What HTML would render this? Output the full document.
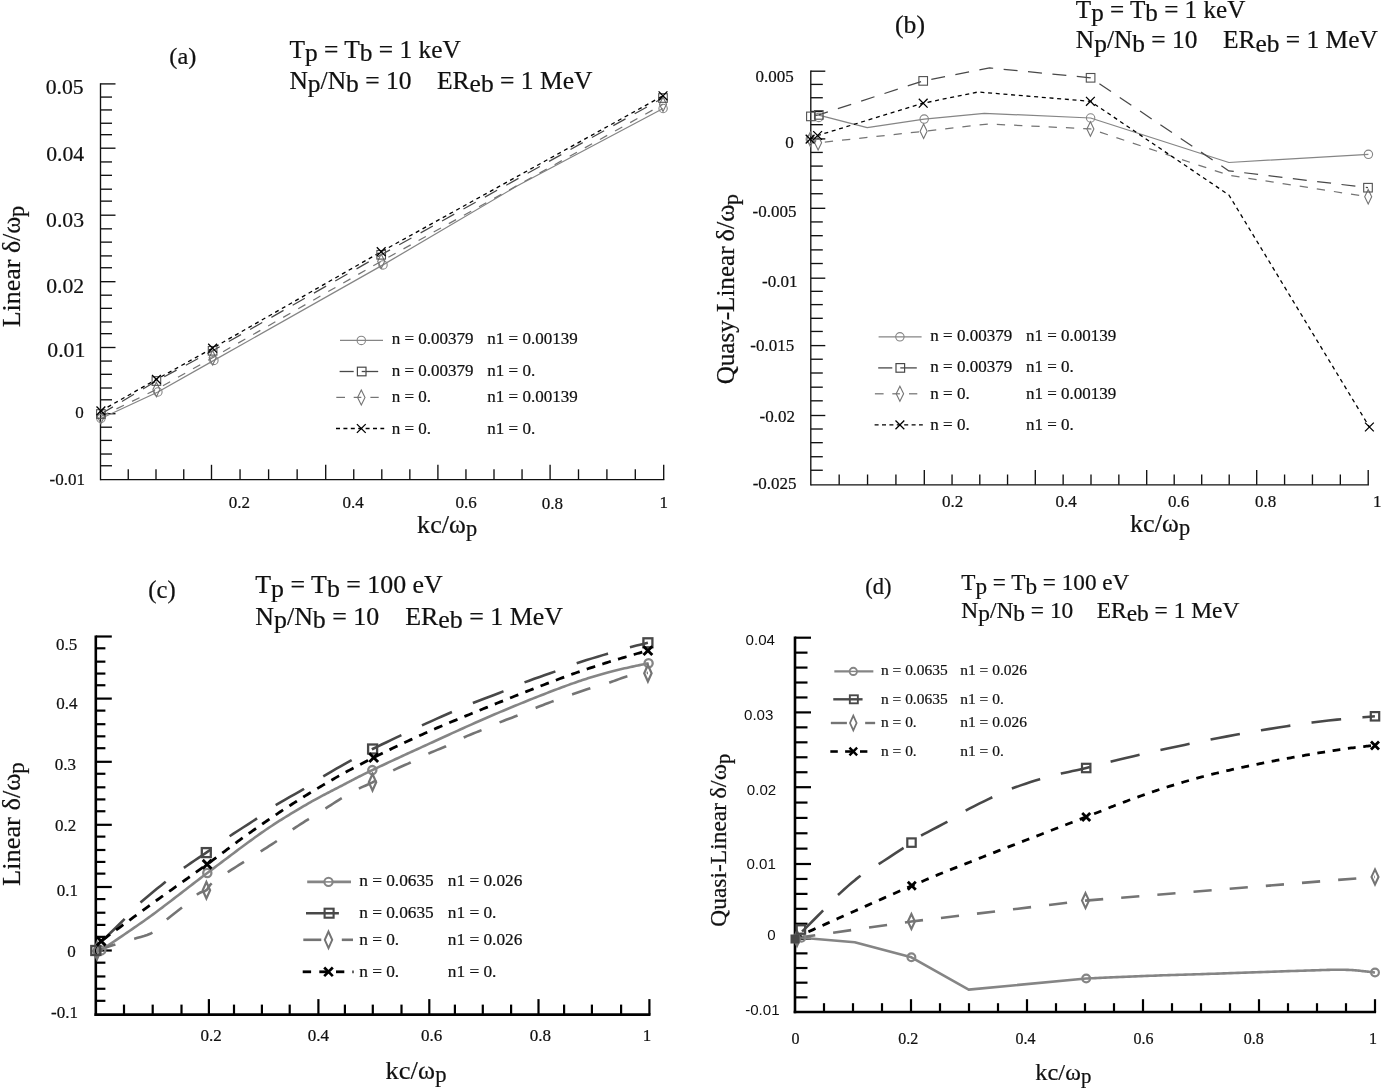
<!DOCTYPE html>
<html><head><meta charset="utf-8"><title>Figure</title>
<style>html,body{margin:0;padding:0;background:#fff;}svg{display:block;will-change:transform;}text{white-space:pre;stroke:#111;stroke-width:0.22px;}</style>
</head><body>
<svg width="1381" height="1088" viewBox="0 0 1381 1088">
<rect x="0" y="0" width="1381" height="1088" fill="#ffffff"/>
<line x1="100.5" y1="83.23" x2="100.5" y2="480.28" stroke="#111111" stroke-width="1.35" />
<line x1="100.5" y1="479.6" x2="664.38" y2="479.6" stroke="#111111" stroke-width="1.35" />
<line x1="100.5" y1="83.9" x2="115.5" y2="83.9" stroke="#111111" stroke-width="1.35" />
<line x1="100.5" y1="97.08" x2="112" y2="97.08" stroke="#111111" stroke-width="1.35" />
<line x1="100.5" y1="109.94" x2="112" y2="109.94" stroke="#111111" stroke-width="1.35" />
<line x1="100.5" y1="123.25" x2="112" y2="123.25" stroke="#111111" stroke-width="1.35" />
<line x1="100.5" y1="134.7" x2="112" y2="134.7" stroke="#111111" stroke-width="1.35" />
<line x1="100.5" y1="148.2" x2="115.5" y2="148.2" stroke="#111111" stroke-width="1.35" />
<line x1="100.5" y1="161.94" x2="112" y2="161.94" stroke="#111111" stroke-width="1.35" />
<line x1="100.5" y1="175.33" x2="112" y2="175.33" stroke="#111111" stroke-width="1.35" />
<line x1="100.5" y1="189.2" x2="112" y2="189.2" stroke="#111111" stroke-width="1.35" />
<line x1="100.5" y1="201.13" x2="112" y2="201.13" stroke="#111111" stroke-width="1.35" />
<line x1="100.5" y1="215.2" x2="115.5" y2="215.2" stroke="#111111" stroke-width="1.35" />
<line x1="100.5" y1="228.83" x2="112" y2="228.83" stroke="#111111" stroke-width="1.35" />
<line x1="100.5" y1="242.13" x2="112" y2="242.13" stroke="#111111" stroke-width="1.35" />
<line x1="100.5" y1="255.9" x2="112" y2="255.9" stroke="#111111" stroke-width="1.35" />
<line x1="100.5" y1="267.74" x2="112" y2="267.74" stroke="#111111" stroke-width="1.35" />
<line x1="100.5" y1="281.7" x2="115.5" y2="281.7" stroke="#111111" stroke-width="1.35" />
<line x1="100.5" y1="295.19" x2="112" y2="295.19" stroke="#111111" stroke-width="1.35" />
<line x1="100.5" y1="308.35" x2="112" y2="308.35" stroke="#111111" stroke-width="1.35" />
<line x1="100.5" y1="321.97" x2="112" y2="321.97" stroke="#111111" stroke-width="1.35" />
<line x1="100.5" y1="333.68" x2="112" y2="333.68" stroke="#111111" stroke-width="1.35" />
<line x1="100.5" y1="347.5" x2="115.5" y2="347.5" stroke="#111111" stroke-width="1.35" />
<line x1="100.5" y1="361.07" x2="112" y2="361.07" stroke="#111111" stroke-width="1.35" />
<line x1="100.5" y1="374.31" x2="112" y2="374.31" stroke="#111111" stroke-width="1.35" />
<line x1="100.5" y1="388.01" x2="112" y2="388.01" stroke="#111111" stroke-width="1.35" />
<line x1="100.5" y1="399.8" x2="112" y2="399.8" stroke="#111111" stroke-width="1.35" />
<line x1="100.5" y1="413.7" x2="115.5" y2="413.7" stroke="#111111" stroke-width="1.35" />
<line x1="100.5" y1="427.21" x2="112" y2="427.21" stroke="#111111" stroke-width="1.35" />
<line x1="100.5" y1="440.39" x2="112" y2="440.39" stroke="#111111" stroke-width="1.35" />
<line x1="100.5" y1="454.03" x2="112" y2="454.03" stroke="#111111" stroke-width="1.35" />
<line x1="100.5" y1="465.76" x2="112" y2="465.76" stroke="#111111" stroke-width="1.35" />
<line x1="128.25" y1="479.6" x2="128.25" y2="469.3" stroke="#111111" stroke-width="1.35" />
<line x1="156" y1="479.6" x2="156" y2="469.3" stroke="#111111" stroke-width="1.35" />
<line x1="183.75" y1="479.6" x2="183.75" y2="469.3" stroke="#111111" stroke-width="1.35" />
<line x1="211.5" y1="479.6" x2="211.5" y2="464.8" stroke="#111111" stroke-width="1.35" />
<line x1="240.05" y1="479.6" x2="240.05" y2="469.3" stroke="#111111" stroke-width="1.35" />
<line x1="268.6" y1="479.6" x2="268.6" y2="469.3" stroke="#111111" stroke-width="1.35" />
<line x1="297.15" y1="479.6" x2="297.15" y2="469.3" stroke="#111111" stroke-width="1.35" />
<line x1="325.7" y1="479.6" x2="325.7" y2="464.8" stroke="#111111" stroke-width="1.35" />
<line x1="353.75" y1="479.6" x2="353.75" y2="469.3" stroke="#111111" stroke-width="1.35" />
<line x1="381.8" y1="479.6" x2="381.8" y2="469.3" stroke="#111111" stroke-width="1.35" />
<line x1="409.85" y1="479.6" x2="409.85" y2="469.3" stroke="#111111" stroke-width="1.35" />
<line x1="437.9" y1="479.6" x2="437.9" y2="464.8" stroke="#111111" stroke-width="1.35" />
<line x1="465.95" y1="479.6" x2="465.95" y2="469.3" stroke="#111111" stroke-width="1.35" />
<line x1="494" y1="479.6" x2="494" y2="469.3" stroke="#111111" stroke-width="1.35" />
<line x1="522.05" y1="479.6" x2="522.05" y2="469.3" stroke="#111111" stroke-width="1.35" />
<line x1="550.1" y1="479.6" x2="550.1" y2="464.8" stroke="#111111" stroke-width="1.35" />
<line x1="578.5" y1="479.6" x2="578.5" y2="469.3" stroke="#111111" stroke-width="1.35" />
<line x1="606.9" y1="479.6" x2="606.9" y2="469.3" stroke="#111111" stroke-width="1.35" />
<line x1="635.3" y1="479.6" x2="635.3" y2="469.3" stroke="#111111" stroke-width="1.35" />
<line x1="663.7" y1="479.6" x2="663.7" y2="464.8" stroke="#111111" stroke-width="1.35" />
<text x="83.6" y="93.9" font-family='"Liberation Serif", serif' font-size="21.7" text-anchor="end" fill="#111" >0.05</text>
<text x="84.1" y="161.3" font-family='"Liberation Serif", serif' font-size="21.7" text-anchor="end" fill="#111" >0.04</text>
<text x="84" y="227.2" font-family='"Liberation Serif", serif' font-size="21.7" text-anchor="end" fill="#111" >0.03</text>
<text x="84.2" y="292.6" font-family='"Liberation Serif", serif' font-size="21.7" text-anchor="end" fill="#111" >0.02</text>
<text x="85.3" y="357.4" font-family='"Liberation Serif", serif' font-size="21.7" text-anchor="end" fill="#111" >0.01</text>
<text x="83.8" y="418.3" font-family='"Liberation Serif", serif' font-size="17" text-anchor="end" fill="#111" >0</text>
<text x="84.9" y="485.4" font-family='"Liberation Serif", serif' font-size="17" text-anchor="end" fill="#111" >-0.01</text>
<text x="239.4" y="508.3" font-family='"Liberation Serif", serif' font-size="17" text-anchor="middle" fill="#111" >0.2</text>
<text x="353" y="508.3" font-family='"Liberation Serif", serif' font-size="17" text-anchor="middle" fill="#111" >0.4</text>
<text x="466" y="508.3" font-family='"Liberation Serif", serif' font-size="17" text-anchor="middle" fill="#111" >0.6</text>
<text x="552.4" y="509.4" font-family='"Liberation Serif", serif' font-size="17" text-anchor="middle" fill="#111" >0.8</text>
<text x="663.7" y="508.3" font-family='"Liberation Serif", serif' font-size="17" text-anchor="middle" fill="#111" >1</text>
<text x="417.1" y="532.9" font-family='"Liberation Serif", serif' font-size="25.37" text-anchor="start" fill="#111" textLength="31.88" lengthAdjust="spacingAndGlyphs" >kc/</text>
<text x="449.1" y="532.9" font-family='"Liberation Serif", serif' font-size="25.37" text-anchor="start" fill="#111" textLength="16.78" lengthAdjust="spacingAndGlyphs" >ω</text>
<text x="466.06" y="536.3" font-family='"Liberation Serif", serif' font-size="22.33" text-anchor="start" fill="#111" >p</text>
<g transform="translate(19.5 327.2) rotate(-90)" font-family='"Liberation Serif", serif' fill="#111">
<text x="0" y="0" font-size="25.6" textLength="67.6" lengthAdjust="spacingAndGlyphs">Linear</text>
<text x="74.1" y="0" font-size="25.6" textLength="36.5" lengthAdjust="spacingAndGlyphs">δ/ω</text>
<text x="110.1" y="4" font-size="22.4">p</text>
</g>
<text x="169.3" y="64.2" font-family='"Liberation Serif", serif' font-size="24" text-anchor="start" fill="#111" textLength="27" lengthAdjust="spacingAndGlyphs" >(a)</text>
<text x="289.4" y="57.8" font-family='"Liberation Serif", serif' font-size="25.5" text-anchor="start" fill="#111" textLength="171.6" lengthAdjust="spacingAndGlyphs" xml:space="preserve">T<tspan dy="3.4">p</tspan><tspan dy="-3.4"> = T</tspan><tspan dy="3.4">b</tspan><tspan dy="-3.4"> = 1 keV</tspan></text>
<text x="289.4" y="88.7" font-family='"Liberation Serif", serif' font-size="25.5" text-anchor="start" fill="#111" textLength="303" lengthAdjust="spacingAndGlyphs" xml:space="preserve">N<tspan dy="3.4">p</tspan><tspan dy="-3.4">/N</tspan><tspan dy="3.4">b</tspan><tspan dy="-3.4"> = 10    ER</tspan><tspan dy="3.4">eb</tspan><tspan dy="-3.4"> = 1 MeV</tspan></text>
<path d="M100.9 418.5 L157.9 392 L213.9 360.4 L383 264.9 L517 186 L663.1 108.5" fill="none" stroke="#858585" stroke-width="1.25" stroke-linejoin="round" />
<path d="M100.9 416.5 L156.4 389.5 L212.6 357.7 L381.2 261.3 L663 104.3" fill="none" stroke="#747474" stroke-width="1.25" stroke-dasharray="8.3 9" stroke-linejoin="round" />
<path d="M100.9 414 L156.4 381 L212.6 350.8 L381.2 254.8 L663 98" fill="none" stroke="#484848" stroke-width="1.25" stroke-dasharray="14 10.5" stroke-linejoin="round" />
<path d="M100.9 410.9 L156.4 379.4 L212.6 348.2 L381.2 251.7 L663 95.8" fill="none" stroke="#000000" stroke-width="1.3" stroke-dasharray="4 3.7" stroke-linejoin="round" />
<circle cx="100.9" cy="418.5" r="4.2" fill="none" stroke="#858585" stroke-width="1.1"/>
<circle cx="157.9" cy="392" r="4.2" fill="none" stroke="#858585" stroke-width="1.1"/>
<circle cx="213.9" cy="360.4" r="4.2" fill="none" stroke="#858585" stroke-width="1.1"/>
<circle cx="383" cy="264.9" r="4.2" fill="none" stroke="#858585" stroke-width="1.1"/>
<circle cx="663.1" cy="108.5" r="4.2" fill="none" stroke="#858585" stroke-width="1.1"/>
<path d="M100.9 409.25 L104.4 416.5 L100.9 423.75 L97.4 416.5 Z" fill="none" stroke="#747474" stroke-width="1.1" stroke-linejoin="miter"/>
<path d="M156.4 382.25 L159.9 389.5 L156.4 396.75 L152.9 389.5 Z" fill="none" stroke="#747474" stroke-width="1.1" stroke-linejoin="miter"/>
<path d="M212.6 350.45 L216.1 357.7 L212.6 364.95 L209.1 357.7 Z" fill="none" stroke="#747474" stroke-width="1.1" stroke-linejoin="miter"/>
<path d="M381.2 254.05 L384.7 261.3 L381.2 268.55 L377.7 261.3 Z" fill="none" stroke="#747474" stroke-width="1.1" stroke-linejoin="miter"/>
<path d="M663 97.05 L666.5 104.3 L663 111.55 L659.5 104.3 Z" fill="none" stroke="#747474" stroke-width="1.1" stroke-linejoin="miter"/>
<rect x="96.6" y="409.7" width="8.6" height="8.6" fill="none" stroke="#505050" stroke-width="1.1"/>
<rect x="152.1" y="376.7" width="8.6" height="8.6" fill="none" stroke="#505050" stroke-width="1.1"/>
<rect x="208.3" y="346.5" width="8.6" height="8.6" fill="none" stroke="#505050" stroke-width="1.1"/>
<rect x="376.9" y="250.5" width="8.6" height="8.6" fill="none" stroke="#505050" stroke-width="1.1"/>
<rect x="658.7" y="93.7" width="8.6" height="8.6" fill="none" stroke="#505050" stroke-width="1.1"/>
<path d="M96.5 406.5 L105.3 415.3 M96.5 415.3 L105.3 406.5" fill="none" stroke="#000000" stroke-width="1.3"/>
<path d="M152 375 L160.8 383.8 M152 383.8 L160.8 375" fill="none" stroke="#000000" stroke-width="1.3"/>
<path d="M208.2 343.8 L217 352.6 M208.2 352.6 L217 343.8" fill="none" stroke="#000000" stroke-width="1.3"/>
<path d="M376.8 247.3 L385.6 256.1 M376.8 256.1 L385.6 247.3" fill="none" stroke="#000000" stroke-width="1.3"/>
<path d="M658.6 91.4 L667.4 100.2 M658.6 100.2 L667.4 91.4" fill="none" stroke="#000000" stroke-width="1.3"/>
<line x1="340" y1="340.4" x2="383" y2="340.4" stroke="#858585" stroke-width="1.25" />
<circle cx="361.3" cy="340.4" r="4.2" fill="none" stroke="#858585" stroke-width="1.1"/>
<line x1="339.6" y1="371.5" x2="353.7" y2="371.5" stroke="#484848" stroke-width="1.3" />
<line x1="365.5" y1="371.5" x2="378.2" y2="371.5" stroke="#484848" stroke-width="1.3" />
<line x1="361.7" y1="371.5" x2="365.5" y2="371.5" stroke="#484848" stroke-width="1.3" />
<rect x="357.4" y="367.2" width="8.6" height="8.6" fill="none" stroke="#484848" stroke-width="1.2"/>
<line x1="336.3" y1="397.4" x2="345" y2="397.4" stroke="#747474" stroke-width="1.25" />
<line x1="353.7" y1="397.4" x2="361.3" y2="397.4" stroke="#747474" stroke-width="1.25" />
<line x1="370.4" y1="397.4" x2="378.7" y2="397.4" stroke="#747474" stroke-width="1.25" />
<path d="M361.3 389.9 L365 397.4 L361.3 404.9 L357.6 397.4 Z" fill="none" stroke="#747474" stroke-width="1.1" stroke-linejoin="miter"/>
<line x1="336" y1="428.5" x2="384.2" y2="428.5" stroke="#000000" stroke-width="1.3" stroke-dasharray="4 3.4"/>
<path d="M356.9 424.1 L365.7 432.9 M356.9 432.9 L365.7 424.1" fill="none" stroke="#000000" stroke-width="1.3"/>
<text x="391.7" y="344.3" font-family='"Liberation Serif", serif' font-size="17" text-anchor="start" fill="#111" >n = 0.00379</text>
<text x="487.3" y="344.3" font-family='"Liberation Serif", serif' font-size="17" text-anchor="start" fill="#111" >n1 = 0.00139</text>
<text x="391.7" y="375.6" font-family='"Liberation Serif", serif' font-size="17" text-anchor="start" fill="#111" >n = 0.00379</text>
<text x="487.3" y="375.6" font-family='"Liberation Serif", serif' font-size="17" text-anchor="start" fill="#111" >n1 = 0.</text>
<text x="391.7" y="402.4" font-family='"Liberation Serif", serif' font-size="17" text-anchor="start" fill="#111" >n = 0.</text>
<text x="487.3" y="402.4" font-family='"Liberation Serif", serif' font-size="17" text-anchor="start" fill="#111" >n1 = 0.00139</text>
<text x="391.7" y="433.5" font-family='"Liberation Serif", serif' font-size="17" text-anchor="start" fill="#111" >n = 0.</text>
<text x="487.3" y="433.5" font-family='"Liberation Serif", serif' font-size="17" text-anchor="start" fill="#111" >n1 = 0.</text>
<line x1="810.8" y1="70.53" x2="810.8" y2="485.48" stroke="#111111" stroke-width="1.35" />
<line x1="810.8" y1="484.8" x2="1368.97" y2="484.8" stroke="#111111" stroke-width="1.35" />
<line x1="810.8" y1="71.2" x2="825.3" y2="71.2" stroke="#111111" stroke-width="1.35" />
<line x1="810.8" y1="84.4" x2="822.8" y2="84.4" stroke="#111111" stroke-width="1.35" />
<line x1="810.8" y1="97.74" x2="822.8" y2="97.74" stroke="#111111" stroke-width="1.35" />
<line x1="810.8" y1="111.48" x2="822.8" y2="111.48" stroke="#111111" stroke-width="1.35" />
<line x1="810.8" y1="124.68" x2="822.8" y2="124.68" stroke="#111111" stroke-width="1.35" />
<line x1="810.8" y1="138.9" x2="825.3" y2="138.9" stroke="#111111" stroke-width="1.35" />
<line x1="810.8" y1="152.43" x2="822.8" y2="152.43" stroke="#111111" stroke-width="1.35" />
<line x1="810.8" y1="166.1" x2="822.8" y2="166.1" stroke="#111111" stroke-width="1.35" />
<line x1="810.8" y1="180.19" x2="822.8" y2="180.19" stroke="#111111" stroke-width="1.35" />
<line x1="810.8" y1="193.73" x2="822.8" y2="193.73" stroke="#111111" stroke-width="1.35" />
<line x1="810.8" y1="208.3" x2="825.3" y2="208.3" stroke="#111111" stroke-width="1.35" />
<line x1="810.8" y1="221.93" x2="822.8" y2="221.93" stroke="#111111" stroke-width="1.35" />
<line x1="810.8" y1="235.7" x2="822.8" y2="235.7" stroke="#111111" stroke-width="1.35" />
<line x1="810.8" y1="249.89" x2="822.8" y2="249.89" stroke="#111111" stroke-width="1.35" />
<line x1="810.8" y1="263.52" x2="822.8" y2="263.52" stroke="#111111" stroke-width="1.35" />
<line x1="810.8" y1="278.2" x2="825.3" y2="278.2" stroke="#111111" stroke-width="1.35" />
<line x1="810.8" y1="291.34" x2="822.8" y2="291.34" stroke="#111111" stroke-width="1.35" />
<line x1="810.8" y1="304.62" x2="822.8" y2="304.62" stroke="#111111" stroke-width="1.35" />
<line x1="810.8" y1="318.3" x2="822.8" y2="318.3" stroke="#111111" stroke-width="1.35" />
<line x1="810.8" y1="331.45" x2="822.8" y2="331.45" stroke="#111111" stroke-width="1.35" />
<line x1="810.8" y1="345.6" x2="825.3" y2="345.6" stroke="#111111" stroke-width="1.35" />
<line x1="810.8" y1="359.23" x2="822.8" y2="359.23" stroke="#111111" stroke-width="1.35" />
<line x1="810.8" y1="373" x2="822.8" y2="373" stroke="#111111" stroke-width="1.35" />
<line x1="810.8" y1="387.19" x2="822.8" y2="387.19" stroke="#111111" stroke-width="1.35" />
<line x1="810.8" y1="400.82" x2="822.8" y2="400.82" stroke="#111111" stroke-width="1.35" />
<line x1="810.8" y1="415.5" x2="825.3" y2="415.5" stroke="#111111" stroke-width="1.35" />
<line x1="810.8" y1="429.01" x2="822.8" y2="429.01" stroke="#111111" stroke-width="1.35" />
<line x1="810.8" y1="442.67" x2="822.8" y2="442.67" stroke="#111111" stroke-width="1.35" />
<line x1="810.8" y1="456.73" x2="822.8" y2="456.73" stroke="#111111" stroke-width="1.35" />
<line x1="810.8" y1="470.25" x2="822.8" y2="470.25" stroke="#111111" stroke-width="1.35" />
<line x1="839.17" y1="484.8" x2="839.17" y2="474.5" stroke="#111111" stroke-width="1.35" />
<line x1="867.55" y1="484.8" x2="867.55" y2="474.5" stroke="#111111" stroke-width="1.35" />
<line x1="895.92" y1="484.8" x2="895.92" y2="474.5" stroke="#111111" stroke-width="1.35" />
<line x1="924.3" y1="484.8" x2="924.3" y2="470" stroke="#111111" stroke-width="1.35" />
<line x1="952.05" y1="484.8" x2="952.05" y2="474.5" stroke="#111111" stroke-width="1.35" />
<line x1="979.8" y1="484.8" x2="979.8" y2="474.5" stroke="#111111" stroke-width="1.35" />
<line x1="1007.55" y1="484.8" x2="1007.55" y2="474.5" stroke="#111111" stroke-width="1.35" />
<line x1="1035.3" y1="484.8" x2="1035.3" y2="470" stroke="#111111" stroke-width="1.35" />
<line x1="1063.15" y1="484.8" x2="1063.15" y2="474.5" stroke="#111111" stroke-width="1.35" />
<line x1="1091" y1="484.8" x2="1091" y2="474.5" stroke="#111111" stroke-width="1.35" />
<line x1="1118.85" y1="484.8" x2="1118.85" y2="474.5" stroke="#111111" stroke-width="1.35" />
<line x1="1146.7" y1="484.8" x2="1146.7" y2="470" stroke="#111111" stroke-width="1.35" />
<line x1="1174.2" y1="484.8" x2="1174.2" y2="474.5" stroke="#111111" stroke-width="1.35" />
<line x1="1201.7" y1="484.8" x2="1201.7" y2="474.5" stroke="#111111" stroke-width="1.35" />
<line x1="1229.2" y1="484.8" x2="1229.2" y2="474.5" stroke="#111111" stroke-width="1.35" />
<line x1="1256.7" y1="484.8" x2="1256.7" y2="470" stroke="#111111" stroke-width="1.35" />
<line x1="1284.58" y1="484.8" x2="1284.58" y2="474.5" stroke="#111111" stroke-width="1.35" />
<line x1="1312.45" y1="484.8" x2="1312.45" y2="474.5" stroke="#111111" stroke-width="1.35" />
<line x1="1340.33" y1="484.8" x2="1340.33" y2="474.5" stroke="#111111" stroke-width="1.35" />
<line x1="1368.2" y1="484.8" x2="1368.2" y2="470" stroke="#111111" stroke-width="1.35" />
<text x="793.7" y="81.6" font-family='"Liberation Serif", serif' font-size="17" text-anchor="end" fill="#111" >0.005</text>
<text x="793.7" y="148.3" font-family='"Liberation Serif", serif' font-size="17" text-anchor="end" fill="#111" >0</text>
<text x="796.5" y="216.7" font-family='"Liberation Serif", serif' font-size="17" text-anchor="end" fill="#111" >-0.005</text>
<text x="797.4" y="287.3" font-family='"Liberation Serif", serif' font-size="17" text-anchor="end" fill="#111" >-0.01</text>
<text x="794.2" y="350.7" font-family='"Liberation Serif", serif' font-size="17" text-anchor="end" fill="#111" >-0.015</text>
<text x="795" y="421.5" font-family='"Liberation Serif", serif' font-size="17" text-anchor="end" fill="#111" >-0.02</text>
<text x="796.6" y="488.7" font-family='"Liberation Serif", serif' font-size="17" text-anchor="end" fill="#111" >-0.025</text>
<text x="952.6" y="506.8" font-family='"Liberation Serif", serif' font-size="17" text-anchor="middle" fill="#111" >0.2</text>
<text x="1066" y="506.8" font-family='"Liberation Serif", serif' font-size="17" text-anchor="middle" fill="#111" >0.4</text>
<text x="1178.7" y="506.8" font-family='"Liberation Serif", serif' font-size="17" text-anchor="middle" fill="#111" >0.6</text>
<text x="1265.5" y="506.8" font-family='"Liberation Serif", serif' font-size="17" text-anchor="middle" fill="#111" >0.8</text>
<text x="1381.5" y="506.8" font-family='"Liberation Serif", serif' font-size="17" text-anchor="end" fill="#111" >1</text>
<text x="1130" y="531.5" font-family='"Liberation Serif", serif' font-size="25.37" text-anchor="start" fill="#111" textLength="31.88" lengthAdjust="spacingAndGlyphs" >kc/</text>
<text x="1162" y="531.5" font-family='"Liberation Serif", serif' font-size="25.37" text-anchor="start" fill="#111" textLength="16.78" lengthAdjust="spacingAndGlyphs" >ω</text>
<text x="1178.96" y="534.9" font-family='"Liberation Serif", serif' font-size="22.33" text-anchor="start" fill="#111" >p</text>
<g transform="translate(734.4 384.3) rotate(-90)" font-family='"Liberation Serif", serif' fill="#111">
<text x="0" y="0" font-size="25" textLength="137.8" lengthAdjust="spacingAndGlyphs">Quasy-Linear</text>
<text x="142.8" y="0" font-size="25" textLength="37.1" lengthAdjust="spacingAndGlyphs">δ/ω</text>
<text x="179.4" y="4" font-size="21.9">p</text>
</g>
<text x="895" y="32.6" font-family='"Liberation Serif", serif' font-size="24.5" text-anchor="start" fill="#111" textLength="30" lengthAdjust="spacingAndGlyphs" >(b)</text>
<text x="1075.8" y="17.9" font-family='"Liberation Serif", serif' font-size="25.5" text-anchor="start" fill="#111" textLength="169.5" lengthAdjust="spacingAndGlyphs" xml:space="preserve">T<tspan dy="3.4">p</tspan><tspan dy="-3.4"> = T</tspan><tspan dy="3.4">b</tspan><tspan dy="-3.4"> = 1 keV</tspan></text>
<text x="1075.8" y="48.3" font-family='"Liberation Serif", serif' font-size="25.5" text-anchor="start" fill="#111" textLength="302" lengthAdjust="spacingAndGlyphs" xml:space="preserve">N<tspan dy="3.4">p</tspan><tspan dy="-3.4">/N</tspan><tspan dy="3.4">b</tspan><tspan dy="-3.4"> = 10    ER</tspan><tspan dy="3.4">eb</tspan><tspan dy="-3.4"> = 1 MeV</tspan></text>
<path d="M818.8 115.2 L867.2 127.7 L924.2 119.1 L984.3 113.3 L1090.6 118 L1228.9 162.5 L1368.4 154.3" fill="none" stroke="#858585" stroke-width="1.25" stroke-linejoin="round" />
<path d="M810.3 139.3 L818.1 142.8 L923.6 131.3 L988 124 L1090.4 128.9 L1228.9 175.3 L1368.2 196.8" fill="none" stroke="#747474" stroke-width="1.25" stroke-dasharray="8.3 9" stroke-linejoin="round" stroke-dashoffset="2"/>
<path d="M810.9 116.4 L818.8 114.9 L923.2 80.9 L989.6 67.9 L1090.6 77.8 L1228.9 170.9 L1368 187.7" fill="none" stroke="#484848" stroke-width="1.25" stroke-dasharray="14 10.5" stroke-linejoin="round" stroke-dashoffset="-3.6"/>
<path d="M810.1 139.1 L817.6 135.5 L923.2 103.2 L978 92 L1090.4 101.3 L1228.9 195 L1369.4 427" fill="none" stroke="#000000" stroke-width="1.3" stroke-dasharray="4 3.7" stroke-linejoin="round" />
<circle cx="810.3" cy="139.2" r="4.2" fill="none" stroke="#858585" stroke-width="1.1"/>
<circle cx="818.8" cy="117.4" r="4.2" fill="none" stroke="#858585" stroke-width="1.1"/>
<circle cx="924.2" cy="119.1" r="4.2" fill="none" stroke="#858585" stroke-width="1.1"/>
<circle cx="1090.6" cy="118" r="4.2" fill="none" stroke="#858585" stroke-width="1.1"/>
<circle cx="1368.4" cy="154.3" r="4.2" fill="none" stroke="#858585" stroke-width="1.1"/>
<path d="M810.3 132.05 L813.8 139.3 L810.3 146.55 L806.8 139.3 Z" fill="none" stroke="#747474" stroke-width="1.1" stroke-linejoin="miter"/>
<path d="M818.1 135.55 L821.6 142.8 L818.1 150.05 L814.6 142.8 Z" fill="none" stroke="#747474" stroke-width="1.1" stroke-linejoin="miter"/>
<path d="M923.6 124.05 L927.1 131.3 L923.6 138.55 L920.1 131.3 Z" fill="none" stroke="#747474" stroke-width="1.1" stroke-linejoin="miter"/>
<path d="M1090.4 121.65 L1093.9 128.9 L1090.4 136.15 L1086.9 128.9 Z" fill="none" stroke="#747474" stroke-width="1.1" stroke-linejoin="miter"/>
<path d="M1368.2 189.55 L1371.7 196.8 L1368.2 204.05 L1364.7 196.8 Z" fill="none" stroke="#747474" stroke-width="1.1" stroke-linejoin="miter"/>
<rect x="806.6" y="112.1" width="8.6" height="8.6" fill="none" stroke="#505050" stroke-width="1.1"/>
<rect x="814.5" y="110.6" width="8.6" height="8.6" fill="none" stroke="#505050" stroke-width="1.1"/>
<rect x="918.9" y="76.6" width="8.6" height="8.6" fill="none" stroke="#505050" stroke-width="1.1"/>
<rect x="1086.3" y="73.5" width="8.6" height="8.6" fill="none" stroke="#505050" stroke-width="1.1"/>
<rect x="1363.7" y="183.4" width="8.6" height="8.6" fill="none" stroke="#505050" stroke-width="1.1"/>
<path d="M805.7 134.7 L814.5 143.5 M805.7 143.5 L814.5 134.7" fill="none" stroke="#000000" stroke-width="1.3"/>
<path d="M813.2 131.1 L822 139.9 M813.2 139.9 L822 131.1" fill="none" stroke="#000000" stroke-width="1.3"/>
<path d="M918.8 98.8 L927.6 107.6 M918.8 107.6 L927.6 98.8" fill="none" stroke="#000000" stroke-width="1.3"/>
<path d="M1086 96.9 L1094.8 105.7 M1086 105.7 L1094.8 96.9" fill="none" stroke="#000000" stroke-width="1.3"/>
<path d="M1365 422.6 L1373.8 431.4 M1365 431.4 L1373.8 422.6" fill="none" stroke="#000000" stroke-width="1.3"/>
<line x1="878.6" y1="336.8" x2="921.6" y2="336.8" stroke="#858585" stroke-width="1.25" />
<circle cx="899.9" cy="336.8" r="4.2" fill="none" stroke="#858585" stroke-width="1.1"/>
<line x1="878.2" y1="367.9" x2="892.3" y2="367.9" stroke="#484848" stroke-width="1.3" />
<line x1="904.1" y1="367.9" x2="916.8" y2="367.9" stroke="#484848" stroke-width="1.3" />
<line x1="900.3" y1="367.9" x2="904.1" y2="367.9" stroke="#484848" stroke-width="1.3" />
<rect x="896" y="363.6" width="8.6" height="8.6" fill="none" stroke="#484848" stroke-width="1.2"/>
<line x1="874.9" y1="393.8" x2="883.6" y2="393.8" stroke="#747474" stroke-width="1.25" />
<line x1="892.3" y1="393.8" x2="899.9" y2="393.8" stroke="#747474" stroke-width="1.25" />
<line x1="909" y1="393.8" x2="917.3" y2="393.8" stroke="#747474" stroke-width="1.25" />
<path d="M899.9 386.3 L903.6 393.8 L899.9 401.3 L896.2 393.8 Z" fill="none" stroke="#747474" stroke-width="1.1" stroke-linejoin="miter"/>
<line x1="874.6" y1="424.9" x2="922.8" y2="424.9" stroke="#000000" stroke-width="1.3" stroke-dasharray="4 3.4"/>
<path d="M895.5 420.5 L904.3 429.3 M895.5 429.3 L904.3 420.5" fill="none" stroke="#000000" stroke-width="1.3"/>
<text x="930.3" y="340.7" font-family='"Liberation Serif", serif' font-size="17" text-anchor="start" fill="#111" >n = 0.00379</text>
<text x="1025.9" y="340.7" font-family='"Liberation Serif", serif' font-size="17" text-anchor="start" fill="#111" >n1 = 0.00139</text>
<text x="930.3" y="372" font-family='"Liberation Serif", serif' font-size="17" text-anchor="start" fill="#111" >n = 0.00379</text>
<text x="1025.9" y="372" font-family='"Liberation Serif", serif' font-size="17" text-anchor="start" fill="#111" >n1 = 0.</text>
<text x="930.3" y="398.8" font-family='"Liberation Serif", serif' font-size="17" text-anchor="start" fill="#111" >n = 0.</text>
<text x="1025.9" y="398.8" font-family='"Liberation Serif", serif' font-size="17" text-anchor="start" fill="#111" >n1 = 0.00139</text>
<text x="930.3" y="429.9" font-family='"Liberation Serif", serif' font-size="17" text-anchor="start" fill="#111" >n = 0.</text>
<text x="1025.9" y="429.9" font-family='"Liberation Serif", serif' font-size="17" text-anchor="start" fill="#111" >n1 = 0.</text>
<line x1="95.8" y1="635.4" x2="95.8" y2="1015.9" stroke="#000" stroke-width="2.6" />
<line x1="94.5" y1="1014.6" x2="650.5" y2="1014.6" stroke="#000" stroke-width="2.6" />
<line x1="95.8" y1="636.5" x2="111.8" y2="636.5" stroke="#000" stroke-width="2.2" />
<line x1="95.8" y1="648.3" x2="105.4" y2="648.3" stroke="#000" stroke-width="2.2" />
<line x1="95.8" y1="661.65" x2="105.4" y2="661.65" stroke="#000" stroke-width="2.2" />
<line x1="95.8" y1="673.57" x2="105.4" y2="673.57" stroke="#000" stroke-width="2.2" />
<line x1="95.8" y1="685.25" x2="105.4" y2="685.25" stroke="#000" stroke-width="2.2" />
<line x1="95.8" y1="698.6" x2="111.8" y2="698.6" stroke="#000" stroke-width="2.2" />
<line x1="95.8" y1="710.61" x2="105.4" y2="710.61" stroke="#000" stroke-width="2.2" />
<line x1="95.8" y1="724.2" x2="105.4" y2="724.2" stroke="#000" stroke-width="2.2" />
<line x1="95.8" y1="736.33" x2="105.4" y2="736.33" stroke="#000" stroke-width="2.2" />
<line x1="95.8" y1="748.21" x2="105.4" y2="748.21" stroke="#000" stroke-width="2.2" />
<line x1="95.8" y1="761.8" x2="111.8" y2="761.8" stroke="#000" stroke-width="2.2" />
<line x1="95.8" y1="773.77" x2="105.4" y2="773.77" stroke="#000" stroke-width="2.2" />
<line x1="95.8" y1="787.31" x2="105.4" y2="787.31" stroke="#000" stroke-width="2.2" />
<line x1="95.8" y1="799.41" x2="105.4" y2="799.41" stroke="#000" stroke-width="2.2" />
<line x1="95.8" y1="811.25" x2="105.4" y2="811.25" stroke="#000" stroke-width="2.2" />
<line x1="95.8" y1="824.8" x2="111.8" y2="824.8" stroke="#000" stroke-width="2.2" />
<line x1="95.8" y1="836.62" x2="105.4" y2="836.62" stroke="#000" stroke-width="2.2" />
<line x1="95.8" y1="849.99" x2="105.4" y2="849.99" stroke="#000" stroke-width="2.2" />
<line x1="95.8" y1="861.93" x2="105.4" y2="861.93" stroke="#000" stroke-width="2.2" />
<line x1="95.8" y1="873.63" x2="105.4" y2="873.63" stroke="#000" stroke-width="2.2" />
<line x1="95.8" y1="887" x2="111.8" y2="887" stroke="#000" stroke-width="2.2" />
<line x1="95.8" y1="899.07" x2="105.4" y2="899.07" stroke="#000" stroke-width="2.2" />
<line x1="95.8" y1="912.72" x2="105.4" y2="912.72" stroke="#000" stroke-width="2.2" />
<line x1="95.8" y1="924.91" x2="105.4" y2="924.91" stroke="#000" stroke-width="2.2" />
<line x1="95.8" y1="936.85" x2="105.4" y2="936.85" stroke="#000" stroke-width="2.2" />
<line x1="95.8" y1="950.5" x2="111.8" y2="950.5" stroke="#000" stroke-width="2.2" />
<line x1="95.8" y1="962.68" x2="105.4" y2="962.68" stroke="#000" stroke-width="2.2" />
<line x1="95.8" y1="976.46" x2="105.4" y2="976.46" stroke="#000" stroke-width="2.2" />
<line x1="95.8" y1="988.77" x2="105.4" y2="988.77" stroke="#000" stroke-width="2.2" />
<line x1="95.8" y1="1000.82" x2="105.4" y2="1000.82" stroke="#000" stroke-width="2.2" />
<line x1="124" y1="1014.6" x2="124" y2="1004.6" stroke="#000" stroke-width="2.2" />
<line x1="152.7" y1="1014.6" x2="152.7" y2="1004.6" stroke="#000" stroke-width="2.2" />
<line x1="181.5" y1="1014.6" x2="181.5" y2="1004.6" stroke="#000" stroke-width="2.2" />
<line x1="208.9" y1="1014.6" x2="208.9" y2="999.1" stroke="#000" stroke-width="2.2" />
<line x1="234" y1="1014.6" x2="234" y2="1004.6" stroke="#000" stroke-width="2.2" />
<line x1="261.9" y1="1014.6" x2="261.9" y2="1004.6" stroke="#000" stroke-width="2.2" />
<line x1="289.7" y1="1014.6" x2="289.7" y2="1004.6" stroke="#000" stroke-width="2.2" />
<line x1="318.4" y1="1014.6" x2="318.4" y2="999.1" stroke="#000" stroke-width="2.2" />
<line x1="344.9" y1="1014.6" x2="344.9" y2="1004.6" stroke="#000" stroke-width="2.2" />
<line x1="372.8" y1="1014.6" x2="372.8" y2="1004.6" stroke="#000" stroke-width="2.2" />
<line x1="401.5" y1="1014.6" x2="401.5" y2="1004.6" stroke="#000" stroke-width="2.2" />
<line x1="429.3" y1="1014.6" x2="429.3" y2="999.1" stroke="#000" stroke-width="2.2" />
<line x1="454.9" y1="1014.6" x2="454.9" y2="1004.6" stroke="#000" stroke-width="2.2" />
<line x1="482.8" y1="1014.6" x2="482.8" y2="1004.6" stroke="#000" stroke-width="2.2" />
<line x1="511.1" y1="1014.6" x2="511.1" y2="1004.6" stroke="#000" stroke-width="2.2" />
<line x1="538.5" y1="1014.6" x2="538.5" y2="999.1" stroke="#000" stroke-width="2.2" />
<line x1="564.1" y1="1014.6" x2="564.1" y2="1004.6" stroke="#000" stroke-width="2.2" />
<line x1="591.9" y1="1014.6" x2="591.9" y2="1004.6" stroke="#000" stroke-width="2.2" />
<line x1="621.1" y1="1014.6" x2="621.1" y2="1004.6" stroke="#000" stroke-width="2.2" />
<line x1="649.4" y1="1014.6" x2="649.4" y2="999.1" stroke="#000" stroke-width="2.2" />
<text x="77.3" y="649.8" font-family='"Liberation Serif", serif' font-size="17" text-anchor="end" fill="#111" >0.5</text>
<text x="77.6" y="708.9" font-family='"Liberation Serif", serif' font-size="17" text-anchor="end" fill="#111" >0.4</text>
<text x="75.9" y="770" font-family='"Liberation Serif", serif' font-size="17" text-anchor="end" fill="#111" >0.3</text>
<text x="76.2" y="830.6" font-family='"Liberation Serif", serif' font-size="17" text-anchor="end" fill="#111" >0.2</text>
<text x="77.9" y="895.8" font-family='"Liberation Serif", serif' font-size="17" text-anchor="end" fill="#111" >0.1</text>
<text x="75.7" y="957.4" font-family='"Liberation Serif", serif' font-size="17" text-anchor="end" fill="#111" >0</text>
<text x="78" y="1018.2" font-family='"Liberation Serif", serif' font-size="17" text-anchor="end" fill="#111" >-0.1</text>
<text x="211" y="1040.6" font-family='"Liberation Serif", serif' font-size="17" text-anchor="middle" fill="#111" >0.2</text>
<text x="318.4" y="1040.6" font-family='"Liberation Serif", serif' font-size="17" text-anchor="middle" fill="#111" >0.4</text>
<text x="431.6" y="1040.6" font-family='"Liberation Serif", serif' font-size="17" text-anchor="middle" fill="#111" >0.6</text>
<text x="540.3" y="1040.6" font-family='"Liberation Serif", serif' font-size="17" text-anchor="middle" fill="#111" >0.8</text>
<text x="647" y="1040.6" font-family='"Liberation Serif", serif' font-size="17" text-anchor="middle" fill="#111" >1</text>
<text x="385.6" y="1078.8" font-family='"Liberation Serif", serif' font-size="25.71" text-anchor="start" fill="#111" textLength="32.31" lengthAdjust="spacingAndGlyphs" >kc/</text>
<text x="418.03" y="1078.8" font-family='"Liberation Serif", serif' font-size="25.71" text-anchor="start" fill="#111" textLength="17" lengthAdjust="spacingAndGlyphs" >ω</text>
<text x="435.21" y="1082.25" font-family='"Liberation Serif", serif' font-size="22.63" text-anchor="start" fill="#111" >p</text>
<g transform="translate(19.8 886) rotate(-90)" font-family='"Liberation Serif", serif' fill="#111">
<text x="0" y="0" font-size="26.1" textLength="68.9" lengthAdjust="spacingAndGlyphs">Linear</text>
<text x="75.5" y="0" font-size="26.1" textLength="37.2" lengthAdjust="spacingAndGlyphs">δ/ω</text>
<text x="112.2" y="4.3" font-size="22.8">p</text>
</g>
<text x="148.3" y="597.9" font-family='"Liberation Serif", serif' font-size="24.5" text-anchor="start" fill="#111" textLength="27.3" lengthAdjust="spacingAndGlyphs" >(c)</text>
<text x="255.3" y="593.3" font-family='"Liberation Serif", serif' font-size="26" text-anchor="start" fill="#111" textLength="187.5" lengthAdjust="spacingAndGlyphs" xml:space="preserve">T<tspan dy="3.5">p</tspan><tspan dy="-3.5"> = T</tspan><tspan dy="3.5">b</tspan><tspan dy="-3.5"> = 100 eV</tspan></text>
<text x="255.3" y="624.5" font-family='"Liberation Serif", serif' font-size="26" text-anchor="start" fill="#111" textLength="307.6" lengthAdjust="spacingAndGlyphs" xml:space="preserve">N<tspan dy="3.5">p</tspan><tspan dy="-3.5">/N</tspan><tspan dy="3.5">b</tspan><tspan dy="-3.5"> = 10    ER</tspan><tspan dy="3.5">eb</tspan><tspan dy="-3.5"> = 1 MeV</tspan></text>
<path d="M100.9 950.3 L102.02 949.53 L103.29 948.67 L104.7 947.71 L106.25 946.67 L107.92 945.54 L109.71 944.34 L111.6 943.07 L113.59 941.73 L115.67 940.33 L117.82 938.88 L120.04 937.38 L122.32 935.84 L124.65 934.26 L127.01 932.65 L129.41 931.01 L131.83 929.35 L134.26 927.67 L136.69 925.99 L139.12 924.3 L141.52 922.62 L143.91 920.94 L146.25 919.27 L148.55 917.62 L150.8 916 L153.03 914.37 L155.28 912.72 L157.55 911.03 L159.83 909.32 L162.14 907.59 L164.46 905.83 L166.8 904.06 L169.14 902.27 L171.5 900.46 L173.87 898.64 L176.25 896.81 L178.64 894.97 L181.03 893.12 L183.42 891.27 L185.82 889.42 L188.22 887.57 L190.62 885.72 L193.02 883.87 L195.42 882.03 L197.81 880.2 L200.19 878.38 L202.57 876.57 L204.94 874.78 L207.3 873 L209.67 871.22 L212.05 869.43 L214.45 867.62 L216.87 865.79 L219.3 863.96 L221.73 862.12 L224.17 860.28 L226.62 858.43 L229.06 856.59 L231.51 854.75 L233.94 852.92 L236.37 851.11 L238.78 849.3 L241.19 847.51 L243.57 845.75 L245.94 844 L248.28 842.28 L250.6 840.59 L252.88 838.93 L255.14 837.3 L257.36 835.71 L259.55 834.16 L261.7 832.66 L263.8 831.2 L265.87 829.78 L267.91 828.4 L269.93 827.04 L271.92 825.72 L273.88 824.43 L275.82 823.16 L277.74 821.93 L279.64 820.72 L281.51 819.53 L283.36 818.38 L285.19 817.24 L286.99 816.13 L288.78 815.03 L290.55 813.96 L292.29 812.91 L294.02 811.87 L295.73 810.85 L297.42 809.85 L299.09 808.86 L300.74 807.89 L302.38 806.92 L304 805.97 L305.61 805.03 L307.2 804.1 L308.77 803.19 L310.3 802.31 L311.79 801.46 L313.26 800.63 L314.7 799.83 L316.11 799.05 L317.5 798.29 L318.87 797.55 L320.22 796.83 L321.55 796.12 L322.87 795.43 L324.18 794.74 L325.48 794.07 L326.77 793.4 L328.06 792.74 L329.34 792.08 L330.62 791.42 L331.91 790.77 L333.2 790.11 L334.5 789.44 L335.8 788.77 L337.12 788.09 L338.45 787.4 L339.8 786.7 L341.14 786 L342.44 785.32 L343.71 784.65 L344.96 783.99 L346.19 783.34 L347.4 782.7 L348.61 782.07 L349.81 781.44 L351.01 780.81 L352.21 780.18 L353.42 779.54 L354.65 778.91 L355.9 778.26 L357.17 777.61 L358.47 776.94 L359.8 776.26 L361.18 775.57 L362.6 774.86 L364.06 774.13 L365.58 773.37 L367.16 772.6 L368.8 771.79 L370.52 770.96 L372.3 770.1 L374.15 769.21 L376.06 768.3 L378.01 767.37 L380.02 766.42 L382.08 765.45 L384.18 764.46 L386.32 763.46 L388.51 762.44 L390.73 761.4 L392.99 760.35 L395.29 759.28 L397.62 758.21 L399.98 757.12 L402.36 756.02 L404.78 754.91 L407.21 753.79 L409.67 752.66 L412.15 751.52 L414.65 750.38 L417.16 749.23 L419.68 748.08 L422.21 746.92 L424.75 745.76 L427.3 744.6 L429.87 743.43 L432.48 742.23 L435.13 741.02 L437.82 739.79 L440.53 738.54 L443.28 737.29 L446.05 736.01 L448.85 734.73 L451.67 733.44 L454.51 732.15 L457.36 730.85 L460.23 729.54 L463.11 728.24 L466 726.93 L468.89 725.63 L471.78 724.33 L474.68 723.04 L477.57 721.76 L480.45 720.48 L483.33 719.21 L486.2 717.96 L489.05 716.72 L491.88 715.5 L494.7 714.3 L497.52 713.1 L500.38 711.89 L503.27 710.68 L506.18 709.47 L509.11 708.25 L512.06 707.03 L515.01 705.81 L517.97 704.6 L520.93 703.39 L523.88 702.19 L526.83 701 L529.76 699.82 L532.67 698.65 L535.55 697.5 L538.41 696.37 L541.23 695.26 L544.01 694.17 L546.75 693.1 L549.44 692.06 L552.08 691.04 L554.66 690.06 L557.18 689.11 L559.62 688.19 L562 687.3 L564.3 686.45 L566.54 685.63 L568.71 684.85 L570.82 684.09 L572.87 683.36 L574.88 682.66 L576.83 681.98 L578.74 681.33 L580.62 680.69 L582.46 680.08 L584.27 679.48 L586.05 678.91 L587.81 678.34 L589.55 677.79 L591.28 677.26 L593 676.73 L594.71 676.21 L596.42 675.7 L598.14 675.2 L599.86 674.69 L601.59 674.2 L603.34 673.7 L605.11 673.2 L606.9 672.7 L608.73 672.2 L610.62 671.7 L612.55 671.2 L614.52 670.71 L616.51 670.22 L618.53 669.74 L620.55 669.27 L622.58 668.8 L624.6 668.35 L626.61 667.9 L628.6 667.46 L630.56 667.04 L632.47 666.63 L634.34 666.23 L636.16 665.84 L637.91 665.47 L639.59 665.12 L641.18 664.79 L642.69 664.47 L644.1 664.17 L645.4 663.9 L646.6 663.64 L647.66 663.41 L648.6 663.2" fill="none" stroke="#858585" stroke-width="2.6" stroke-linejoin="round" />
<path d="M97 951 L97.57 950.76 L98.3 950.45 L99.19 950.08 L100.26 949.64 L101.53 949.14 L103 948.6 L104.7 947.99 L106.61 947.32 L108.72 946.59 L111 945.81 L113.43 945.01 L116 944.2 L118.77 943.37 L121.76 942.51 L124.91 941.63 L128.13 940.72 L131.35 939.78 L134.5 938.8 L137.63 937.86 L140.83 936.96 L144.03 936.03 L147.16 935 L150.17 933.78 L153 932.3 L155.59 930.48 L157.99 928.38 L160.26 926.09 L162.48 923.72 L164.74 921.39 L167.1 919.2 L169.57 917.16 L172.09 915.19 L174.63 913.25 L177.19 911.31 L179.75 909.34 L182.3 907.3 L184.91 905.08 L187.6 902.69 L190.29 900.26 L192.9 897.94 L195.33 895.87 L197.5 894.2 L199.39 893.04 L201.07 892.3 L202.57 891.81 L203.93 891.4 L205.2 890.92 L206.4 890.2 L207.35 889.29 L207.99 888.33 L208.53 887.3 L209.18 886.16 L210.16 884.87 L211.7 883.4 L213.91 881.67 L216.66 879.7 L219.73 877.58 L222.94 875.42 L226.1 873.33 L229 871.4 L231.63 869.66 L234.14 868.04 L236.59 866.48 L239.05 864.94 L241.56 863.36 L244.2 861.7 L247 859.94 L249.92 858.11 L252.9 856.26 L255.88 854.4 L258.8 852.57 L261.6 850.8 L264.25 849.13 L266.79 847.53 L269.27 845.96 L271.73 844.38 L274.23 842.74 L276.8 841 L279.47 839.11 L282.19 837.11 L284.95 835.05 L287.71 832.99 L290.43 830.99 L293.1 829.1 L295.67 827.36 L298.17 825.72 L300.63 824.14 L303.11 822.57 L305.65 820.97 L308.3 819.3 L311.1 817.53 L314.02 815.7 L317 813.84 L319.98 811.99 L322.9 810.16 L325.7 808.4 L328.34 806.72 L330.85 805.08 L333.3 803.48 L335.75 801.9 L338.26 800.31 L340.9 798.7 L343.71 797.04 L346.66 795.32 L349.66 793.61 L352.66 791.93 L355.56 790.35 L358.3 788.9 L360.78 787.68 L363.03 786.66 L365.19 785.73 L367.4 784.77 L369.79 783.67 L372.5 782.3 L375.61 780.58 L379.04 778.58 L382.66 776.43 L386.31 774.27 L389.87 772.21 L393.2 770.4 L396.27 768.86 L399.19 767.51 L402.02 766.26 L404.81 765.06 L407.62 763.83 L410.5 762.5 L413.47 761.06 L416.47 759.55 L419.49 758.02 L422.51 756.49 L425.52 755.01 L428.5 753.6 L431.44 752.3 L434.34 751.08 L437.23 749.91 L440.12 748.73 L443.04 747.51 L446 746.2 L449.03 744.77 L452.1 743.25 L455.2 741.69 L458.3 740.13 L461.38 738.61 L464.4 737.2 L467.36 735.9 L470.27 734.69 L473.15 733.53 L476.03 732.39 L478.94 731.22 L481.9 730 L484.93 728.71 L488 727.37 L491.1 726.02 L494.2 724.67 L497.28 723.36 L500.3 722.1 L503.25 720.93 L506.15 719.82 L509.02 718.75 L511.9 717.68 L514.81 716.57 L517.8 715.4 L520.89 714.14 L524.05 712.81 L527.25 711.45 L530.45 710.09 L533.61 708.76 L536.7 707.5 L539.68 706.31 L542.58 705.18 L545.44 704.07 L548.31 702.99 L551.21 701.9 L554.2 700.8 L557.3 699.68 L560.47 698.54 L563.69 697.41 L566.91 696.29 L570.1 695.18 L573.2 694.1 L576.2 693.04 L579.12 692 L582 690.98 L584.88 689.97 L587.8 688.98 L590.8 688 L593.89 687.05 L597.05 686.12 L600.25 685.21 L603.46 684.3 L606.65 683.37 L609.8 682.4 L612.89 681.35 L615.93 680.24 L618.96 679.1 L621.99 678 L625.07 676.98 L628.2 676.1 L631.64 675.35 L635.4 674.69 L639.2 674.11 L642.74 673.61 L645.74 673.21 L647.9 672.9" fill="none" stroke="#747474" stroke-width="2.6" stroke-dasharray="19.3 19.6" stroke-linejoin="round" stroke-dashoffset="38.64"/>
<path d="M101 942 L103.54 939.54 L107.12 936.08 L111.33 932.01 L115.77 927.7 L120.02 923.54 L123.7 919.9 L126.69 916.83 L129.29 914.02 L131.71 911.36 L134.16 908.72 L136.85 905.98 L140 903 L143.74 899.69 L147.93 896.14 L152.37 892.48 L156.83 888.85 L161.11 885.41 L165 882.3 L168.4 879.59 L171.46 877.17 L174.33 874.93 L177.18 872.77 L180.15 870.56 L183.4 868.2 L186.96 865.69 L190.71 863.12 L194.58 860.51 L198.51 857.88 L202.44 855.23 L206.3 852.6 L210.03 850 L213.67 847.42 L217.31 844.83 L221.03 842.2 L224.89 839.5 L229 836.7 L233.51 833.7 L238.39 830.52 L243.42 827.27 L248.39 824.06 L253.09 821 L257.3 818.2 L260.83 815.75 L263.8 813.58 L266.5 811.56 L269.2 809.57 L272.18 807.49 L275.7 805.2 L279.96 802.62 L284.76 799.85 L289.84 796.99 L294.93 794.14 L299.74 791.41 L304 788.9 L307.54 786.7 L310.53 784.74 L313.26 782.9 L315.98 781.06 L318.97 779.1 L322.5 776.9 L326.71 774.38 L331.41 771.61 L336.39 768.73 L341.41 765.84 L346.25 763.09 L350.7 760.6 L354.65 758.42 L358.25 756.45 L361.68 754.62 L365.1 752.83 L368.68 750.98 L372.6 749 L376.97 746.83 L381.67 744.54 L386.54 742.21 L391.4 739.89 L396.07 737.66 L400.4 735.6 L404.22 733.77 L407.65 732.11 L410.89 730.56 L414.17 729 L417.7 727.34 L421.7 725.5 L426.34 723.39 L431.48 721.09 L436.88 718.68 L442.26 716.29 L447.39 714.03 L452 712 L455.92 710.27 L459.31 708.76 L462.45 707.38 L465.59 706.03 L468.98 704.6 L472.9 703 L477.51 701.19 L482.64 699.23 L488.02 697.2 L493.42 695.17 L498.56 693.21 L503.2 691.4 L507.17 689.77 L510.63 688.27 L513.85 686.85 L517.07 685.44 L520.53 683.97 L524.5 682.4 L529.13 680.68 L534.25 678.84 L539.62 676.96 L545 675.08 L550.14 673.28 L554.8 671.6 L558.82 670.09 L562.36 668.7 L565.66 667.38 L568.97 666.07 L572.53 664.73 L576.6 663.3 L581.34 661.74 L586.59 660.07 L592.1 658.38 L597.61 656.7 L602.86 655.12 L607.6 653.7 L611.8 652.44 L615.67 651.29 L619.28 650.24 L622.72 649.25 L626.06 648.31 L629.4 647.4 L632.89 646.48 L636.5 645.57 L640.01 644.71 L643.23 643.93 L645.93 643.28 L647.9 642.8" fill="none" stroke="#484848" stroke-width="2.6" stroke-dasharray="32.8 22.8" stroke-linejoin="round" stroke-dashoffset="55.41"/>
<path d="M100.9 941.2 L102.07 940.34 L103.41 939.36 L104.91 938.26 L106.55 937.05 L108.32 935.74 L110.21 934.35 L112.22 932.87 L114.33 931.31 L116.53 929.69 L118.81 928.02 L121.16 926.29 L123.57 924.52 L126.02 922.72 L128.51 920.89 L131.03 919.04 L133.56 917.19 L136.09 915.33 L138.61 913.48 L141.12 911.65 L143.6 909.84 L146.04 908.06 L148.42 906.32 L150.75 904.63 L153 903 L155.23 901.39 L157.49 899.76 L159.77 898.12 L162.08 896.46 L164.4 894.8 L166.74 893.13 L169.09 891.45 L171.45 889.77 L173.81 888.09 L176.17 886.41 L178.53 884.73 L180.87 883.06 L183.21 881.4 L185.53 879.75 L187.84 878.11 L190.12 876.49 L192.37 874.88 L194.6 873.29 L196.79 871.72 L198.94 870.18 L201.05 868.67 L203.12 867.18 L205.13 865.72 L207.1 864.3 L209.01 862.91 L210.87 861.55 L212.69 860.21 L214.46 858.91 L216.19 857.62 L217.88 856.36 L219.54 855.12 L221.17 853.9 L222.77 852.7 L224.36 851.51 L225.92 850.34 L227.46 849.17 L229 848.02 L230.52 846.88 L232.04 845.74 L233.55 844.61 L235.07 843.48 L236.59 842.35 L238.12 841.22 L239.66 840.09 L241.21 838.95 L242.79 837.81 L244.38 836.66 L246 835.5 L247.63 834.34 L249.25 833.18 L250.87 832.03 L252.49 830.89 L254.1 829.75 L255.72 828.61 L257.33 827.48 L258.94 826.35 L260.55 825.23 L262.16 824.1 L263.78 822.98 L265.4 821.86 L267.03 820.74 L268.66 819.63 L270.29 818.51 L271.94 817.39 L273.6 816.27 L275.26 815.16 L276.93 814.04 L278.62 812.91 L280.32 811.79 L282.03 810.66 L283.76 809.53 L285.5 808.4 L287.26 807.26 L289.04 806.11 L290.83 804.96 L292.64 803.8 L294.46 802.64 L296.29 801.48 L298.14 800.31 L299.99 799.14 L301.86 797.97 L303.73 796.8 L305.61 795.63 L307.49 794.47 L309.37 793.31 L311.26 792.15 L313.15 791 L315.04 789.85 L316.93 788.71 L318.81 787.58 L320.7 786.45 L322.57 785.34 L324.44 784.24 L326.3 783.14 L328.16 782.07 L330 781 L331.83 779.95 L333.64 778.92 L335.43 777.9 L337.22 776.89 L338.99 775.9 L340.75 774.92 L342.51 773.94 L344.26 772.98 L346.01 772.02 L347.76 771.07 L349.52 770.12 L351.28 769.17 L353.05 768.23 L354.83 767.29 L356.62 766.35 L358.43 765.4 L360.25 764.45 L362.1 763.5 L363.96 762.54 L365.85 761.57 L367.77 760.59 L369.71 759.61 L371.69 758.61 L373.7 757.6 L375.73 756.58 L377.78 755.56 L379.83 754.54 L381.9 753.51 L383.98 752.48 L386.08 751.45 L388.19 750.42 L390.32 749.38 L392.47 748.34 L394.63 747.29 L396.82 746.24 L399.02 745.19 L401.24 744.13 L403.49 743.07 L405.75 742 L408.04 740.93 L410.36 739.86 L412.7 738.78 L415.06 737.7 L417.45 736.61 L419.87 735.51 L422.32 734.41 L424.79 733.31 L427.3 732.2 L429.84 731.08 L432.43 729.95 L435.07 728.81 L437.74 727.66 L440.44 726.51 L443.18 725.34 L445.95 724.17 L448.75 723 L451.57 721.82 L454.41 720.63 L457.27 719.44 L460.14 718.26 L463.03 717.07 L465.92 715.88 L468.83 714.69 L471.73 713.5 L474.63 712.32 L477.53 711.14 L480.43 709.97 L483.31 708.8 L486.19 707.64 L489.04 706.48 L491.88 705.34 L494.7 704.2 L497.52 703.06 L500.38 701.91 L503.27 700.76 L506.18 699.59 L509.11 698.42 L512.06 697.25 L515.01 696.07 L517.97 694.9 L520.93 693.73 L523.88 692.56 L526.83 691.41 L529.76 690.26 L532.67 689.12 L535.55 687.99 L538.41 686.88 L541.23 685.79 L544.01 684.71 L546.75 683.66 L549.44 682.63 L552.08 681.63 L554.66 680.65 L557.18 679.7 L559.62 678.78 L562 677.9 L564.3 677.05 L566.54 676.23 L568.71 675.44 L570.82 674.68 L572.88 673.94 L574.89 673.23 L576.85 672.54 L578.77 671.87 L580.65 671.22 L582.49 670.58 L584.31 669.97 L586.09 669.36 L587.86 668.77 L589.6 668.19 L591.33 667.62 L593.05 667.06 L594.76 666.5 L596.47 665.94 L598.19 665.39 L599.9 664.84 L601.63 664.28 L603.37 663.73 L605.12 663.17 L606.9 662.6 L608.72 662.02 L610.58 661.44 L612.49 660.85 L614.43 660.26 L616.4 659.66 L618.39 659.07 L620.38 658.47 L622.37 657.88 L624.36 657.3 L626.34 656.72 L628.29 656.15 L630.21 655.59 L632.09 655.05 L633.92 654.52 L635.7 654.01 L637.41 653.52 L639.06 653.05 L640.62 652.6 L642.1 652.18 L643.48 651.78 L644.76 651.41 L645.93 651.07 L646.98 650.77 L647.9 650.5" fill="none" stroke="#000000" stroke-width="2.8" stroke-dasharray="8.9 7.5" stroke-linejoin="round" stroke-dashoffset="13.91"/>
<circle cx="101.2" cy="950.4" r="4.1" fill="none" stroke="#858585" stroke-width="2.3"/>
<circle cx="207.3" cy="873" r="4.1" fill="none" stroke="#858585" stroke-width="2.3"/>
<circle cx="372.3" cy="770.1" r="4.1" fill="none" stroke="#858585" stroke-width="2.3"/>
<circle cx="648.6" cy="663.2" r="4.1" fill="none" stroke="#858585" stroke-width="2.3"/>
<path d="M97 942.75 L100.7 951 L97 959.25 L93.3 951 Z" fill="none" stroke="#747474" stroke-width="2.2" stroke-linejoin="miter"/>
<path d="M206.4 881.95 L210.1 890.2 L206.4 898.45 L202.7 890.2 Z" fill="none" stroke="#747474" stroke-width="2.2" stroke-linejoin="miter"/>
<path d="M372.5 774.05 L376.2 782.3 L372.5 790.55 L368.8 782.3 Z" fill="none" stroke="#747474" stroke-width="2.2" stroke-linejoin="miter"/>
<path d="M647.9 664.95 L651.6 673.2 L647.9 681.45 L644.2 673.2 Z" fill="none" stroke="#747474" stroke-width="2.2" stroke-linejoin="miter"/>
<rect x="91.3" y="946" width="9" height="9" fill="none" stroke="#484848" stroke-width="2.3"/>
<rect x="201.8" y="848.1" width="9" height="9" fill="none" stroke="#484848" stroke-width="2.3"/>
<rect x="368.1" y="744.5" width="9" height="9" fill="none" stroke="#484848" stroke-width="2.3"/>
<rect x="643.4" y="638.3" width="9" height="9" fill="none" stroke="#484848" stroke-width="2.3"/>
<path d="M96.8 936.8 L105.6 945.6 M96.8 945.6 L105.6 936.8" fill="none" stroke="#000000" stroke-width="2.9"/>
<path d="M202.7 859.9 L211.5 868.7 M202.7 868.7 L211.5 859.9" fill="none" stroke="#000000" stroke-width="2.9"/>
<path d="M369.3 753.2 L378.1 762 M369.3 762 L378.1 753.2" fill="none" stroke="#000000" stroke-width="2.9"/>
<path d="M643.5 646.2 L652.3 655 M643.5 655 L652.3 646.2" fill="none" stroke="#000000" stroke-width="2.9"/>
<line x1="307.2" y1="881.9" x2="351" y2="881.9" stroke="#858585" stroke-width="2.6" />
<circle cx="328.5" cy="881.9" r="4.1" fill="#fff" stroke="#858585" stroke-width="2.1"/>
<line x1="324.4" y1="881.9" x2="332.6" y2="881.9" stroke="#858585" stroke-width="1.56" />
<line x1="306" y1="913.2" x2="338.9" y2="913.2" stroke="#484848" stroke-width="2.6" />
<rect x="324.6" y="908.7" width="9" height="9" fill="none" stroke="#484848" stroke-width="2.1"/>
<line x1="303.3" y1="939.8" x2="321.3" y2="939.8" stroke="#747474" stroke-width="2.6" />
<line x1="341.8" y1="939.8" x2="353" y2="939.8" stroke="#747474" stroke-width="2.6" />
<path d="M328.5 931.55 L332.2 939.8 L328.5 948.05 L324.8 939.8 Z" fill="none" stroke="#747474" stroke-width="2" stroke-linejoin="miter"/>
<line x1="302.7" y1="971.8" x2="311.1" y2="971.8" stroke="#000000" stroke-width="2.8" />
<line x1="319.3" y1="971.8" x2="328.5" y2="971.8" stroke="#000000" stroke-width="2.8" />
<line x1="336" y1="971.8" x2="344.3" y2="971.8" stroke="#000000" stroke-width="2.8" />
<line x1="352.4" y1="971.8" x2="353.6" y2="971.8" stroke="#000000" stroke-width="2.8" />
<path d="M324.2 967.5 L332.8 976.1 M324.2 976.1 L332.8 967.5" fill="none" stroke="#000000" stroke-width="2.7"/>
<text x="359.2" y="885.8" font-family='"Liberation Serif", serif' font-size="17.3" text-anchor="start" fill="#111" >n = 0.0635</text>
<text x="447.8" y="885.8" font-family='"Liberation Serif", serif' font-size="17.3" text-anchor="start" fill="#111" >n1 = 0.026</text>
<text x="359.2" y="918.3" font-family='"Liberation Serif", serif' font-size="17.3" text-anchor="start" fill="#111" >n = 0.0635</text>
<text x="447.8" y="918.3" font-family='"Liberation Serif", serif' font-size="17.3" text-anchor="start" fill="#111" >n1 = 0.</text>
<text x="359.2" y="944.5" font-family='"Liberation Serif", serif' font-size="17.3" text-anchor="start" fill="#111" >n = 0.</text>
<text x="447.8" y="944.5" font-family='"Liberation Serif", serif' font-size="17.3" text-anchor="start" fill="#111" >n1 = 0.026</text>
<text x="359.2" y="976.9" font-family='"Liberation Serif", serif' font-size="17.3" text-anchor="start" fill="#111" >n = 0.</text>
<text x="447.8" y="976.9" font-family='"Liberation Serif", serif' font-size="17.3" text-anchor="start" fill="#111" >n1 = 0.</text>
<line x1="795" y1="636.6" x2="795" y2="1013.3" stroke="#000" stroke-width="2.6" />
<line x1="793.7" y1="1012" x2="1376.1" y2="1012" stroke="#000" stroke-width="2.6" />
<line x1="795" y1="637.7" x2="811" y2="637.7" stroke="#000" stroke-width="2.2" />
<line x1="795" y1="652.64" x2="807.5" y2="652.64" stroke="#000" stroke-width="2.2" />
<line x1="795" y1="667.58" x2="807.5" y2="667.58" stroke="#000" stroke-width="2.2" />
<line x1="795" y1="682.52" x2="807.5" y2="682.52" stroke="#000" stroke-width="2.2" />
<line x1="795" y1="697.46" x2="807.5" y2="697.46" stroke="#000" stroke-width="2.2" />
<line x1="795" y1="712.4" x2="811" y2="712.4" stroke="#000" stroke-width="2.2" />
<line x1="795" y1="727.36" x2="807.5" y2="727.36" stroke="#000" stroke-width="2.2" />
<line x1="795" y1="742.32" x2="807.5" y2="742.32" stroke="#000" stroke-width="2.2" />
<line x1="795" y1="757.28" x2="807.5" y2="757.28" stroke="#000" stroke-width="2.2" />
<line x1="795" y1="772.24" x2="807.5" y2="772.24" stroke="#000" stroke-width="2.2" />
<line x1="795" y1="787.2" x2="811" y2="787.2" stroke="#000" stroke-width="2.2" />
<line x1="795" y1="802.56" x2="807.5" y2="802.56" stroke="#000" stroke-width="2.2" />
<line x1="795" y1="817.92" x2="807.5" y2="817.92" stroke="#000" stroke-width="2.2" />
<line x1="795" y1="833.28" x2="807.5" y2="833.28" stroke="#000" stroke-width="2.2" />
<line x1="795" y1="848.64" x2="807.5" y2="848.64" stroke="#000" stroke-width="2.2" />
<line x1="795" y1="864" x2="811" y2="864" stroke="#000" stroke-width="2.2" />
<line x1="795" y1="878.94" x2="807.5" y2="878.94" stroke="#000" stroke-width="2.2" />
<line x1="795" y1="893.88" x2="807.5" y2="893.88" stroke="#000" stroke-width="2.2" />
<line x1="795" y1="908.82" x2="807.5" y2="908.82" stroke="#000" stroke-width="2.2" />
<line x1="795" y1="923.76" x2="807.5" y2="923.76" stroke="#000" stroke-width="2.2" />
<line x1="795" y1="938.7" x2="811" y2="938.7" stroke="#000" stroke-width="2.2" />
<line x1="795" y1="953.36" x2="807.5" y2="953.36" stroke="#000" stroke-width="2.2" />
<line x1="795" y1="968.02" x2="807.5" y2="968.02" stroke="#000" stroke-width="2.2" />
<line x1="795" y1="982.68" x2="807.5" y2="982.68" stroke="#000" stroke-width="2.2" />
<line x1="795" y1="997.34" x2="807.5" y2="997.34" stroke="#000" stroke-width="2.2" />
<line x1="824" y1="1012" x2="824" y2="1003.2" stroke="#000" stroke-width="2.2" />
<line x1="853" y1="1012" x2="853" y2="1003.2" stroke="#000" stroke-width="2.2" />
<line x1="882" y1="1012" x2="882" y2="1003.2" stroke="#000" stroke-width="2.2" />
<line x1="911" y1="1012" x2="911" y2="999.2" stroke="#000" stroke-width="2.2" />
<line x1="940" y1="1012" x2="940" y2="1003.2" stroke="#000" stroke-width="2.2" />
<line x1="969" y1="1012" x2="969" y2="1003.2" stroke="#000" stroke-width="2.2" />
<line x1="998" y1="1012" x2="998" y2="1003.2" stroke="#000" stroke-width="2.2" />
<line x1="1027" y1="1012" x2="1027" y2="999.2" stroke="#000" stroke-width="2.2" />
<line x1="1056" y1="1012" x2="1056" y2="1003.2" stroke="#000" stroke-width="2.2" />
<line x1="1085" y1="1012" x2="1085" y2="1003.2" stroke="#000" stroke-width="2.2" />
<line x1="1114" y1="1012" x2="1114" y2="1003.2" stroke="#000" stroke-width="2.2" />
<line x1="1143" y1="1012" x2="1143" y2="999.2" stroke="#000" stroke-width="2.2" />
<line x1="1172" y1="1012" x2="1172" y2="1003.2" stroke="#000" stroke-width="2.2" />
<line x1="1201" y1="1012" x2="1201" y2="1003.2" stroke="#000" stroke-width="2.2" />
<line x1="1230" y1="1012" x2="1230" y2="1003.2" stroke="#000" stroke-width="2.2" />
<line x1="1259" y1="1012" x2="1259" y2="999.2" stroke="#000" stroke-width="2.2" />
<line x1="1288" y1="1012" x2="1288" y2="1003.2" stroke="#000" stroke-width="2.2" />
<line x1="1317" y1="1012" x2="1317" y2="1003.2" stroke="#000" stroke-width="2.2" />
<line x1="1346" y1="1012" x2="1346" y2="1003.2" stroke="#000" stroke-width="2.2" />
<line x1="1375" y1="1012" x2="1375" y2="999.2" stroke="#000" stroke-width="2.2" />
<text x="775" y="644.8" font-family='"Liberation Sans", sans-serif' font-size="15.1" text-anchor="end" fill="#111" style="stroke:none">0.04</text>
<text x="773.4" y="719.5" font-family='"Liberation Sans", sans-serif' font-size="15.1" text-anchor="end" fill="#111" style="stroke:none">0.03</text>
<text x="776.2" y="795" font-family='"Liberation Sans", sans-serif' font-size="15.1" text-anchor="end" fill="#111" style="stroke:none">0.02</text>
<text x="775.8" y="868.7" font-family='"Liberation Sans", sans-serif' font-size="15.1" text-anchor="end" fill="#111" style="stroke:none">0.01</text>
<text x="775.6" y="940.4" font-family='"Liberation Sans", sans-serif' font-size="15.1" text-anchor="end" fill="#111" style="stroke:none">0</text>
<text x="779.6" y="1015.2" font-family='"Liberation Sans", sans-serif' font-size="15.1" text-anchor="end" fill="#111" style="stroke:none">-0.01</text>
<text x="795.5" y="1043.6" font-family='"Liberation Serif", serif' font-size="16" text-anchor="middle" fill="#111" >0</text>
<text x="908.3" y="1043.6" font-family='"Liberation Serif", serif' font-size="16" text-anchor="middle" fill="#111" >0.2</text>
<text x="1025.6" y="1043.6" font-family='"Liberation Serif", serif' font-size="16" text-anchor="middle" fill="#111" >0.4</text>
<text x="1143.6" y="1043.6" font-family='"Liberation Serif", serif' font-size="16" text-anchor="middle" fill="#111" >0.6</text>
<text x="1253.8" y="1043.6" font-family='"Liberation Serif", serif' font-size="16" text-anchor="middle" fill="#111" >0.8</text>
<text x="1373" y="1043.6" font-family='"Liberation Serif", serif' font-size="16" text-anchor="middle" fill="#111" >1</text>
<text x="1035.3" y="1080" font-family='"Liberation Serif", serif' font-size="23.67" text-anchor="start" fill="#111" textLength="29.74" lengthAdjust="spacingAndGlyphs" >kc/</text>
<text x="1065.18" y="1080" font-family='"Liberation Serif", serif' font-size="23.67" text-anchor="start" fill="#111" textLength="15.65" lengthAdjust="spacingAndGlyphs" >ω</text>
<text x="1081" y="1083.17" font-family='"Liberation Serif", serif' font-size="20.83" text-anchor="start" fill="#111" >p</text>
<g transform="translate(726.1 926.8) rotate(-90)" font-family='"Liberation Serif", serif' fill="#111">
<text x="0" y="0" font-size="23.4" textLength="123.9" lengthAdjust="spacingAndGlyphs">Quasi-Linear</text>
<text x="128" y="0" font-size="23.4" textLength="34.8" lengthAdjust="spacingAndGlyphs">δ/ω</text>
<text x="162.7" y="3.7" font-size="20.4">p</text>
</g>
<text x="865.2" y="594" font-family='"Liberation Serif", serif' font-size="23" text-anchor="start" fill="#111" textLength="26.2" lengthAdjust="spacingAndGlyphs" >(d)</text>
<text x="961.3" y="590.3" font-family='"Liberation Serif", serif' font-size="23" text-anchor="start" fill="#111" textLength="168" lengthAdjust="spacingAndGlyphs" xml:space="preserve">T<tspan dy="3.2">p</tspan><tspan dy="-3.2"> = T</tspan><tspan dy="3.2">b</tspan><tspan dy="-3.2"> = 100 eV</tspan></text>
<text x="961.3" y="618.2" font-family='"Liberation Serif", serif' font-size="23" text-anchor="start" fill="#111" textLength="278" lengthAdjust="spacingAndGlyphs" xml:space="preserve">N<tspan dy="3.2">p</tspan><tspan dy="-3.2">/N</tspan><tspan dy="3.2">b</tspan><tspan dy="-3.2"> = 10    ER</tspan><tspan dy="3.2">eb</tspan><tspan dy="-3.2"> = 1 MeV</tspan></text>
<path d="M801.4 937.8 L854.7 942.2 L911.4 957.3 L968.7 989.6 L1086.2 978.5 L1087.63 978.44 L1089.27 978.37 L1091.1 978.29 L1093.1 978.2 L1095.26 978.11 L1097.58 978 L1100.03 977.89 L1102.6 977.78 L1105.29 977.66 L1108.07 977.54 L1110.94 977.42 L1113.88 977.29 L1116.88 977.16 L1119.92 977.03 L1123 976.89 L1126.1 976.76 L1129.2 976.63 L1132.29 976.5 L1135.37 976.38 L1138.41 976.25 L1141.41 976.13 L1144.35 976.02 L1147.22 975.91 L1150 975.8 L1152.73 975.7 L1155.45 975.6 L1158.16 975.51 L1160.86 975.41 L1163.56 975.32 L1166.26 975.23 L1168.96 975.14 L1171.67 975.05 L1174.38 974.96 L1177.1 974.88 L1179.84 974.79 L1182.58 974.71 L1185.34 974.62 L1188.12 974.53 L1190.93 974.45 L1193.75 974.36 L1196.6 974.27 L1199.48 974.18 L1202.39 974.09 L1205.34 974 L1208.32 973.9 L1211.34 973.8 L1214.4 973.7 L1217.5 973.6 L1220.68 973.49 L1223.97 973.38 L1227.35 973.27 L1230.82 973.15 L1234.35 973.02 L1237.95 972.9 L1241.59 972.77 L1245.28 972.64 L1248.99 972.51 L1252.71 972.38 L1256.44 972.25 L1260.16 972.12 L1263.86 972 L1267.52 971.87 L1271.15 971.74 L1274.72 971.62 L1278.23 971.5 L1281.66 971.39 L1285 971.28 L1288.25 971.17 L1291.38 971.07 L1294.39 970.97 L1297.27 970.88 L1300 970.8 L1302.6 970.72 L1305.11 970.64 L1307.52 970.56 L1309.84 970.49 L1312.08 970.41 L1314.24 970.34 L1316.32 970.27 L1318.33 970.2 L1320.28 970.13 L1322.17 970.07 L1324 970.01 L1325.78 969.96 L1327.52 969.91 L1329.21 969.86 L1330.87 969.82 L1332.5 969.79 L1334.1 969.77 L1335.68 969.75 L1337.25 969.74 L1338.8 969.73 L1340.35 969.74 L1341.89 969.75 L1343.44 969.77 L1345 969.8 L1346.56 969.84 L1348.12 969.9 L1349.67 969.98 L1351.22 970.07 L1352.74 970.17 L1354.26 970.28 L1355.75 970.4 L1357.22 970.53 L1358.67 970.66 L1360.08 970.8 L1361.47 970.94 L1362.81 971.09 L1364.12 971.23 L1365.39 971.38 L1366.61 971.52 L1367.78 971.66 L1368.9 971.8 L1369.96 971.93 L1370.97 972.05 L1371.91 972.16 L1372.79 972.27 L1373.6 972.36 L1374.34 972.44 L1375 972.5" fill="none" stroke="#858585" stroke-width="2.6" stroke-linejoin="round" />
<path d="M795.2 938.2 L911.4 921.5 L1085.5 900.6 L1375 876.9" fill="none" stroke="#747474" stroke-width="2.6" stroke-dasharray="18.2 18.08" stroke-linejoin="round" stroke-dashoffset="34.24"/>
<path d="M795.1 938.6 L798.16 935.53 L802.51 931.18 L807.61 926.08 L812.91 920.76 L817.89 915.76 L822 911.6 L825.12 908.37 L827.65 905.66 L829.86 903.26 L831.99 900.97 L834.32 898.58 L837.1 895.9 L840.4 892.83 L844.03 889.53 L847.85 886.14 L851.73 882.79 L855.52 879.63 L859.1 876.8 L862.29 874.47 L865.16 872.55 L867.94 870.83 L870.89 869.06 L874.23 867.03 L878.2 864.5 L883.22 861.22 L889.18 857.33 L895.53 853.17 L901.73 849.09 L907.24 845.45 L911.5 842.6 L914.1 840.76 L915.38 839.68 L915.97 839.04 L916.47 838.51 L917.51 837.74 L919.7 836.4 L923.26 834.41 L927.74 832.03 L932.75 829.41 L937.91 826.73 L942.82 824.13 L947.1 821.8 L950.61 819.76 L953.64 817.9 L956.43 816.13 L959.21 814.38 L962.22 812.56 L965.7 810.6 L969.79 808.43 L974.34 806.09 L979.12 803.68 L983.9 801.31 L988.47 799.09 L992.6 797.1 L996.13 795.4 L999.21 793.93 L1002.07 792.59 L1004.96 791.31 L1008.09 790.01 L1011.7 788.6 L1015.94 787.04 L1020.65 785.39 L1025.61 783.72 L1030.6 782.09 L1035.41 780.56 L1039.8 779.2 L1043.7 778.05 L1047.26 777.05 L1050.64 776.16 L1053.97 775.33 L1057.41 774.49 L1061.1 773.6 L1064.9 772.72 L1068.65 771.9 L1072.51 771.08 L1076.62 770.19 L1081.13 769.19 L1086.2 768 L1091.84 766.6 L1097.94 765.04 L1104.44 763.36 L1111.29 761.59 L1118.42 759.79 L1125.8 758 L1133.53 756.18 L1141.68 754.29 L1150.12 752.37 L1158.73 750.44 L1167.36 748.54 L1175.9 746.7 L1184.37 744.91 L1192.89 743.14 L1201.43 741.4 L1209.99 739.69 L1218.55 738.02 L1227.1 736.4 L1235.64 734.81 L1244.2 733.26 L1252.76 731.74 L1261.31 730.27 L1269.82 728.86 L1278.3 727.5 L1286.77 726.19 L1295.25 724.92 L1303.7 723.71 L1312.09 722.56 L1320.36 721.48 L1328.5 720.5 L1336.99 719.59 L1345.97 718.74 L1354.84 717.96 L1363.01 717.29 L1369.9 716.72 L1374.9 716.3" fill="none" stroke="#484848" stroke-width="2.6" stroke-dasharray="29.8 21.4" stroke-linejoin="round" stroke-dashoffset="41.29"/>
<path d="M795.2 937.7 L797.87 936.51 L800.98 935.12 L804.51 933.54 L808.41 931.79 L812.66 929.88 L817.22 927.83 L822.05 925.66 L827.12 923.39 L832.39 921.02 L837.83 918.58 L843.4 916.09 L849.07 913.55 L854.8 910.99 L860.55 908.42 L866.3 905.85 L872 903.31 L877.62 900.81 L883.13 898.37 L888.49 896 L893.66 893.71 L898.61 891.54 L903.31 889.48 L907.72 887.56 L911.8 885.8 L915.6 884.17 L919.2 882.63 L922.63 881.17 L925.88 879.79 L928.99 878.49 L931.97 877.24 L934.84 876.05 L937.61 874.91 L940.3 873.8 L942.93 872.73 L945.51 871.69 L948.07 870.66 L950.61 869.65 L953.16 868.63 L955.73 867.61 L958.34 866.58 L961.01 865.53 L963.75 864.45 L966.59 863.34 L969.53 862.19 L972.59 860.98 L975.8 859.72 L979.16 858.4 L982.7 857 L986.44 855.52 L990.39 853.97 L994.53 852.35 L998.83 850.68 L1003.27 848.95 L1007.83 847.17 L1012.49 845.37 L1017.23 843.53 L1022.03 841.67 L1026.86 839.81 L1031.71 837.94 L1036.54 836.07 L1041.35 834.21 L1046.11 832.38 L1050.8 830.57 L1055.39 828.8 L1059.87 827.08 L1064.21 825.4 L1068.39 823.79 L1072.4 822.24 L1076.2 820.77 L1079.79 819.39 L1083.13 818.09 L1086.2 816.9 L1089.02 815.8 L1091.61 814.79 L1094 813.85 L1096.19 812.99 L1098.2 812.19 L1100.05 811.45 L1101.76 810.77 L1103.33 810.14 L1104.79 809.55 L1106.16 809 L1107.43 808.48 L1108.64 807.99 L1109.8 807.53 L1110.92 807.07 L1112.03 806.63 L1113.12 806.2 L1114.23 805.76 L1115.36 805.31 L1116.54 804.86 L1117.77 804.38 L1119.08 803.89 L1120.48 803.36 L1121.98 802.8 L1123.6 802.2 L1125.3 801.57 L1127.02 800.94 L1128.75 800.3 L1130.51 799.66 L1132.28 799.02 L1134.06 798.37 L1135.86 797.72 L1137.67 797.07 L1139.5 796.41 L1141.33 795.76 L1143.17 795.11 L1145.01 794.46 L1146.86 793.81 L1148.72 793.16 L1150.58 792.52 L1152.44 791.88 L1154.3 791.24 L1156.15 790.61 L1158.01 789.99 L1159.86 789.38 L1161.71 788.77 L1163.55 788.17 L1165.38 787.58 L1167.2 787 L1169.02 786.43 L1170.83 785.86 L1172.65 785.3 L1174.47 784.74 L1176.28 784.19 L1178.1 783.64 L1179.92 783.1 L1181.73 782.56 L1183.55 782.03 L1185.37 781.5 L1187.18 780.98 L1189 780.46 L1190.82 779.95 L1192.63 779.44 L1194.45 778.94 L1196.27 778.44 L1198.08 777.94 L1199.9 777.45 L1201.72 776.97 L1203.53 776.48 L1205.35 776.01 L1207.17 775.53 L1208.98 775.06 L1210.8 774.6 L1212.62 774.14 L1214.43 773.69 L1216.25 773.24 L1218.07 772.8 L1219.88 772.36 L1221.7 771.93 L1223.52 771.51 L1225.33 771.09 L1227.15 770.67 L1228.97 770.26 L1230.78 769.85 L1232.6 769.44 L1234.42 769.04 L1236.23 768.65 L1238.05 768.25 L1239.87 767.86 L1241.68 767.47 L1243.5 767.08 L1245.32 766.7 L1247.13 766.32 L1248.95 765.94 L1250.77 765.56 L1252.58 765.18 L1254.4 764.8 L1256.22 764.42 L1258.03 764.05 L1259.85 763.68 L1261.67 763.32 L1263.49 762.95 L1265.3 762.59 L1267.12 762.24 L1268.94 761.88 L1270.75 761.53 L1272.57 761.18 L1274.39 760.83 L1276.21 760.49 L1278.02 760.14 L1279.84 759.8 L1281.66 759.47 L1283.47 759.13 L1285.29 758.8 L1287.11 758.46 L1288.92 758.13 L1290.74 757.8 L1292.55 757.47 L1294.37 757.15 L1296.19 756.82 L1298 756.5 L1299.82 756.18 L1301.66 755.85 L1303.51 755.53 L1305.37 755.2 L1307.24 754.87 L1309.12 754.55 L1311 754.22 L1312.88 753.9 L1314.76 753.58 L1316.64 753.26 L1318.52 752.94 L1320.39 752.63 L1322.25 752.32 L1324.1 752.02 L1325.93 751.72 L1327.75 751.42 L1329.55 751.13 L1331.34 750.85 L1333.1 750.57 L1334.84 750.3 L1336.55 750.04 L1338.23 749.78 L1339.88 749.54 L1341.5 749.3 L1343.11 749.07 L1344.74 748.84 L1346.39 748.62 L1348.04 748.4 L1349.69 748.19 L1351.34 747.98 L1352.99 747.78 L1354.62 747.58 L1356.23 747.39 L1357.82 747.2 L1359.39 747.02 L1360.92 746.85 L1362.41 746.68 L1363.86 746.52 L1365.27 746.37 L1366.61 746.22 L1367.91 746.08 L1369.14 745.94 L1370.3 745.82 L1371.38 745.7 L1372.39 745.59 L1373.32 745.48 L1374.16 745.39 L1374.9 745.3" fill="none" stroke="#000000" stroke-width="2.8" stroke-dasharray="7.8 7.66" stroke-linejoin="round" stroke-dashoffset="1"/>
<circle cx="801.4" cy="937.8" r="3.9" fill="none" stroke="#858585" stroke-width="2.2"/>
<circle cx="911.4" cy="957.3" r="3.9" fill="none" stroke="#858585" stroke-width="2.2"/>
<circle cx="1086.2" cy="978.5" r="3.9" fill="none" stroke="#858585" stroke-width="2.2"/>
<circle cx="1375" cy="972.5" r="3.9" fill="none" stroke="#858585" stroke-width="2.2"/>
<path d="M797 931 L800.5 938.5 L797 946 L793.5 938.5 Z" fill="none" stroke="#747474" stroke-width="2.1" stroke-linejoin="miter"/>
<path d="M911.4 914 L914.9 921.5 L911.4 929 L907.9 921.5 Z" fill="none" stroke="#747474" stroke-width="2.1" stroke-linejoin="miter"/>
<path d="M1085.5 893.1 L1089 900.6 L1085.5 908.1 L1082 900.6 Z" fill="none" stroke="#747474" stroke-width="2.1" stroke-linejoin="miter"/>
<path d="M1375 869.4 L1378.5 876.9 L1375 884.4 L1371.5 876.9 Z" fill="none" stroke="#747474" stroke-width="2.1" stroke-linejoin="miter"/>
<rect x="790.5" y="934.5" width="9" height="9" fill="#484848"/>
<rect x="796.7" y="925.3" width="8.4" height="8.4" fill="none" stroke="#484848" stroke-width="2.2"/>
<rect x="907.3" y="838.4" width="8.4" height="8.4" fill="none" stroke="#484848" stroke-width="2.2"/>
<rect x="1082" y="763.8" width="8.4" height="8.4" fill="none" stroke="#484848" stroke-width="2.2"/>
<rect x="1370.8" y="712.1" width="8.4" height="8.4" fill="none" stroke="#484848" stroke-width="2.2"/>
<path d="M907.8 881.8 L915.8 889.8 M907.8 889.8 L915.8 881.8" fill="none" stroke="#000000" stroke-width="2.8"/>
<path d="M1082.2 812.9 L1090.2 820.9 M1082.2 820.9 L1090.2 812.9" fill="none" stroke="#000000" stroke-width="2.8"/>
<path d="M1371 741.4 L1379 749.4 M1371 749.4 L1379 741.4" fill="none" stroke="#000000" stroke-width="2.8"/>
<line x1="834.33" y1="671.41" x2="873.35" y2="671.41" stroke="#858585" stroke-width="2.39" />
<circle cx="853.3" cy="671.41" r="3.65" fill="#fff" stroke="#858585" stroke-width="1.87"/>
<line x1="849.65" y1="671.41" x2="856.96" y2="671.41" stroke="#858585" stroke-width="1.44" />
<line x1="833.26" y1="699.3" x2="862.57" y2="699.3" stroke="#484848" stroke-width="2.39" />
<rect x="849.83" y="695.29" width="8.02" height="8.02" fill="none" stroke="#484848" stroke-width="1.87"/>
<line x1="830.85" y1="723" x2="846.89" y2="723" stroke="#747474" stroke-width="2.39" />
<line x1="865.15" y1="723" x2="875.13" y2="723" stroke="#747474" stroke-width="2.39" />
<path d="M853.3 715.65 L856.6 723 L853.3 730.35 L850.01 723 Z" fill="none" stroke="#747474" stroke-width="1.78" stroke-linejoin="miter"/>
<line x1="830.32" y1="751.51" x2="837.8" y2="751.51" stroke="#000000" stroke-width="2.59" />
<line x1="845.11" y1="751.51" x2="853.3" y2="751.51" stroke="#000000" stroke-width="2.59" />
<line x1="859.99" y1="751.51" x2="867.38" y2="751.51" stroke="#000000" stroke-width="2.59" />
<path d="M849.47 747.68 L857.13 755.35 M849.47 755.35 L857.13 747.68" fill="none" stroke="#000000" stroke-width="2.41"/>
<text x="881" y="674.89" font-family='"Liberation Serif", serif' font-size="15.45" text-anchor="start" fill="#111" >n = 0.0635</text>
<text x="960.3" y="674.89" font-family='"Liberation Serif", serif' font-size="15.45" text-anchor="start" fill="#111" >n1 = 0.026</text>
<text x="881" y="703.85" font-family='"Liberation Serif", serif' font-size="15.45" text-anchor="start" fill="#111" >n = 0.0635</text>
<text x="960.3" y="703.85" font-family='"Liberation Serif", serif' font-size="15.45" text-anchor="start" fill="#111" >n1 = 0.</text>
<text x="881" y="727.19" font-family='"Liberation Serif", serif' font-size="15.45" text-anchor="start" fill="#111" >n = 0.</text>
<text x="960.3" y="727.19" font-family='"Liberation Serif", serif' font-size="15.45" text-anchor="start" fill="#111" >n1 = 0.026</text>
<text x="881" y="756.06" font-family='"Liberation Serif", serif' font-size="15.45" text-anchor="start" fill="#111" >n = 0.</text>
<text x="960.3" y="756.06" font-family='"Liberation Serif", serif' font-size="15.45" text-anchor="start" fill="#111" >n1 = 0.</text>
</svg>
</body></html>
